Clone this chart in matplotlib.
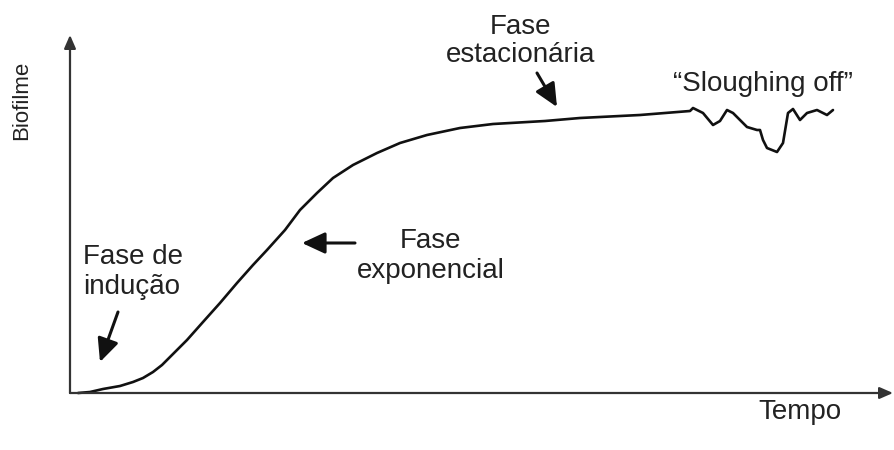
import matplotlib
matplotlib.use("Agg")
import numpy as np
from matplotlib import pyplot as plt

plt.rcParams['font.family'] = ['Liberation Sans', 'DejaVu Sans']

# curva de crescimento do biofilme (unidades arbitrarias)
tempo = [8, 20, 33, 50, 63, 73, 83, 92, 100, 117, 133, 150, 167, 183, 197,
         215, 230, 247, 263, 283, 307, 330, 357, 390, 423, 475, 510, 570,
         620,
         623, 633, 643, 650, 657, 663, 670, 677, 687, 690, 693, 697, 707,
         713, 718, 723, 730, 737, 747, 757, 763]
biofilme = [0, 1, 4, 7, 11, 15, 21, 28, 36, 53, 71, 90, 110, 128, 143,
            163, 183, 200, 215, 228, 240, 250, 258, 265, 269, 272, 275, 278,
            282,
            285, 280, 268, 272, 283, 280, 273, 266, 263, 263, 253, 245, 241,
            250, 280, 284, 273, 280, 283, 278, 283]

x_label = "Tempo"
y_label = "Biofilme"

# rotulos das fases: (texto, posicao do texto, cauda da seta, ponta da seta)
fases = [
    ("Fase de\nindução", (13, 121), 'left', (48, 81), (30, 31)),
    ("Fase\nexponencial", (361, 137), 'center', (285, 150), (232, 150)),
    ("Fase\nestacionária", (451, 352), 'center', (467, 320), (487, 286)),
    ("\u201cSloughing off\u201d", (693, 309), 'center', None, None),
]

fig = plt.figure(figsize=(8.95, 4.5), dpi=100)
ax = fig.add_axes([70/895, 57/450, 823/895, 358/450])
ax.set_xlim(0, 823)
ax.set_ylim(0, 358)
for s in ax.spines.values():
    s.set_visible(False)
ax.set_xticks([])
ax.set_yticks([])

# eixos com setas
ax.annotate('', xy=(0, 1), xytext=(0, 0), xycoords='axes fraction',
            arrowprops=dict(arrowstyle='-|>,head_length=0.8,head_width=0.35',
                            color='#333333', lw=1.6, shrinkA=0, shrinkB=0))
ax.annotate('', xy=(1, 0), xytext=(0, 0), xycoords='axes fraction',
            arrowprops=dict(arrowstyle='-|>,head_length=0.8,head_width=0.35',
                            color='#333333', lw=1.6, shrinkA=0, shrinkB=0))

ax.plot(tempo, biofilme, color='#111111', lw=1.9, solid_joinstyle='round',
        solid_capstyle='round', clip_on=False)

txt_color = '#222222'
ax.text(-48, 293, y_label, rotation=90, ha='center', va='center',
        fontsize=16, color=txt_color, clip_on=False)
ax.text(730, -19, x_label, ha='center', va='center', fontsize=20,
        color=txt_color, clip_on=False)

for label, pos, ha, tail, tip in fases:
    ax.text(pos[0], pos[1], label, ha=ha, va='center', fontsize=20,
            color=txt_color, linespacing=1.15, multialignment=ha,
            clip_on=False)
    if tail is not None:
        ax.annotate('', xy=tip, xytext=tail,
                    arrowprops=dict(arrowstyle='-|>,head_length=1.4,head_width=0.65',
                                    color='#111111', lw=2.2,
                                    shrinkA=0, shrinkB=0))

fig.savefig("out.png", dpi=100, facecolor='white')
